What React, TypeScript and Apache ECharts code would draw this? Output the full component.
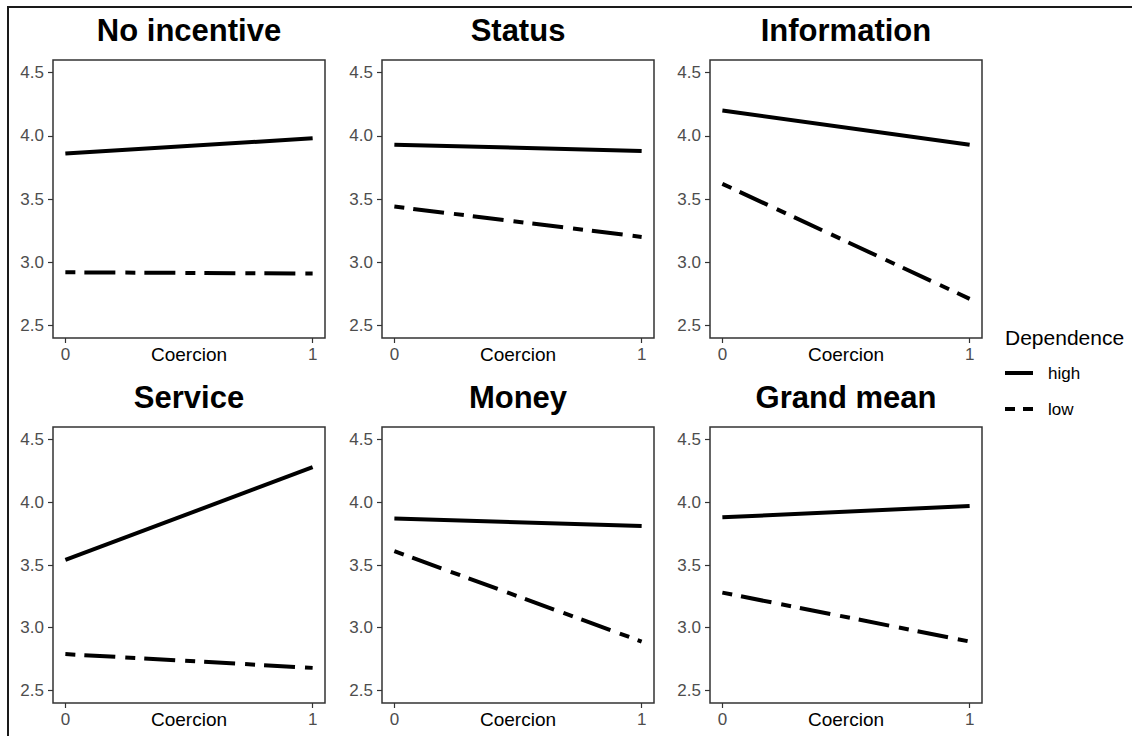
import React, { useEffect, useRef } from "react";
import * as echarts from "echarts";

const panelTitles = ["No incentive", "Status", "Information", "Service", "Money", "Grand mean"];
const coercionLevels = [0, 1];
const highValues = [
  [3.86, 3.98],
  [3.93, 3.88],
  [4.2, 3.93],
  [3.54, 4.28],
  [3.87, 3.81],
  [3.88, 3.97],
];
const lowValues = [
  [2.92, 2.91],
  [3.44, 3.2],
  [3.62, 2.71],
  [2.79, 2.68],
  [3.61, 2.89],
  [3.28, 2.89],
];
const yTicks = [2.5, 3.0, 3.5, 4.0, 4.5];
const xTicks = [0, 1];
const legendTitle = "Dependence";
const legendLabels = ["high", "low"];
const xAxisTitle = "Coercion";

const FONT = "'Liberation Sans', Arial, Helvetica, sans-serif";
const colLefts = [53, 382, 710];
const boxW = 272;
const rowTops = [60, 427];
const rowHeights = [278, 276];
const titleYs = [30, 397];
const lowDash = [10, 9, 31, 10];

export default function App() {
  const ref = useRef<HTMLDivElement>(null);
  useEffect(() => {
    document.body.style.margin = "0";
    const chart = echarts.init(ref.current!, undefined, { renderer: "svg" });
    const grids: any[] = [];
    const xAxes: any[] = [];
    const yAxes: any[] = [];
    const series: any[] = [];
    const titles: any[] = [];
    panelTitles.forEach((t, i) => {
      const r = Math.floor(i / 3);
      const c = i % 3;
      grids.push({
        left: colLefts[c],
        top: rowTops[r],
        width: boxW,
        height: rowHeights[r],
        show: true,
        borderColor: "#333333",
        borderWidth: 1.5,
        backgroundColor: "#ffffff",
      });
      xAxes.push({
        type: "value",
        gridIndex: i,
        min: -0.05,
        max: 1.05,
        axisLine: { show: false, onZero: false },
        splitLine: { show: false },
        axisTick: { show: true, length: 5, customValues: xTicks, lineStyle: { color: "#333333", width: 1.2 } },
        axisLabel: {
          customValues: xTicks,
          margin: 8,
          color: "#4d4d4d",
          fontSize: 17,
          fontFamily: FONT,
          formatter: (v: number) => String(v),
        },
        name: xAxisTitle,
        nameLocation: "middle",
        nameGap: 16,
        nameMoveOverlap: false,
        nameTextStyle: { color: "#000000", fontSize: 19, fontFamily: FONT, verticalAlign: "middle" },
      });
      yAxes.push({
        type: "value",
        gridIndex: i,
        min: 2.4,
        max: 4.6,
        axisLine: { show: false, onZero: false },
        splitLine: { show: false },
        axisTick: { show: true, length: 5, customValues: yTicks, lineStyle: { color: "#333333", width: 1.2 } },
        axisLabel: {
          customValues: yTicks,
          margin: 9,
          color: "#4d4d4d",
          fontSize: 17,
          fontFamily: FONT,
          formatter: (v: number) => v.toFixed(1),
        },
      });
      series.push({
        type: "line",
        name: legendLabels[0],
        xAxisIndex: i,
        yAxisIndex: i,
        symbol: "none",
        silent: true,
        data: coercionLevels.map((x, k) => [x, highValues[i][k]]),
        lineStyle: { color: "#000000", width: 4, type: "solid", cap: "butt" },
      });
      series.push({
        type: "line",
        name: legendLabels[1],
        xAxisIndex: i,
        yAxisIndex: i,
        symbol: "none",
        silent: true,
        data: coercionLevels.map((x, k) => [x, lowValues[i][k]]),
        lineStyle: { color: "#000000", width: 4, type: lowDash, cap: "butt" },
      });
      titles.push({
        text: t,
        left: colLefts[c] + boxW / 2,
        top: titleYs[r],
        textAlign: "center",
        textVerticalAlign: "middle",
        padding: 0,
        textStyle: { fontSize: 31, fontWeight: "bold", color: "#000000", fontFamily: FONT },
      });
    });

    const legendX = 1005;
    chart.setOption({
      animation: false,
      backgroundColor: "#ffffff",
      title: titles,
      grid: grids,
      xAxis: xAxes,
      yAxis: yAxes,
      series,
      graphic: [
        {
          type: "text",
          x: legendX,
          y: 337,
          style: { text: legendTitle, fill: "#000000", fontSize: 21, fontFamily: FONT, verticalAlign: "middle" },
        },
        {
          type: "line",
          shape: { x1: legendX, y1: 373, x2: legendX + 28, y2: 373 },
          style: { stroke: "#000000", lineWidth: 4 },
        },
        {
          type: "line",
          shape: { x1: legendX, y1: 409, x2: legendX + 28, y2: 409 },
          style: { stroke: "#000000", lineWidth: 4, lineDash: [10, 8] },
        },
        {
          type: "text",
          x: 1048,
          y: 373,
          style: { text: legendLabels[0], fill: "#000000", fontSize: 17, fontFamily: FONT, verticalAlign: "middle" },
        },
        {
          type: "text",
          x: 1048,
          y: 409,
          style: { text: legendLabels[1], fill: "#000000", fontSize: 17, fontFamily: FONT, verticalAlign: "middle" },
        },
      ],
    });
    return () => chart.dispose();
  }, []);
  return (
    <div style={{ position: "fixed", left: 0, top: 0, width: 1132, height: 736, background: "#fff" }}>
      <div ref={ref} style={{ width: 1132, height: 736 }} />
      <div
        style={{
          position: "absolute",
          left: 7,
          top: 6,
          right: 0,
          bottom: 0,
          borderTop: "2px solid #1a1a1a",
          borderLeft: "2px solid #1a1a1a",
          pointerEvents: "none",
        }}
      />
    </div>
  );
}
